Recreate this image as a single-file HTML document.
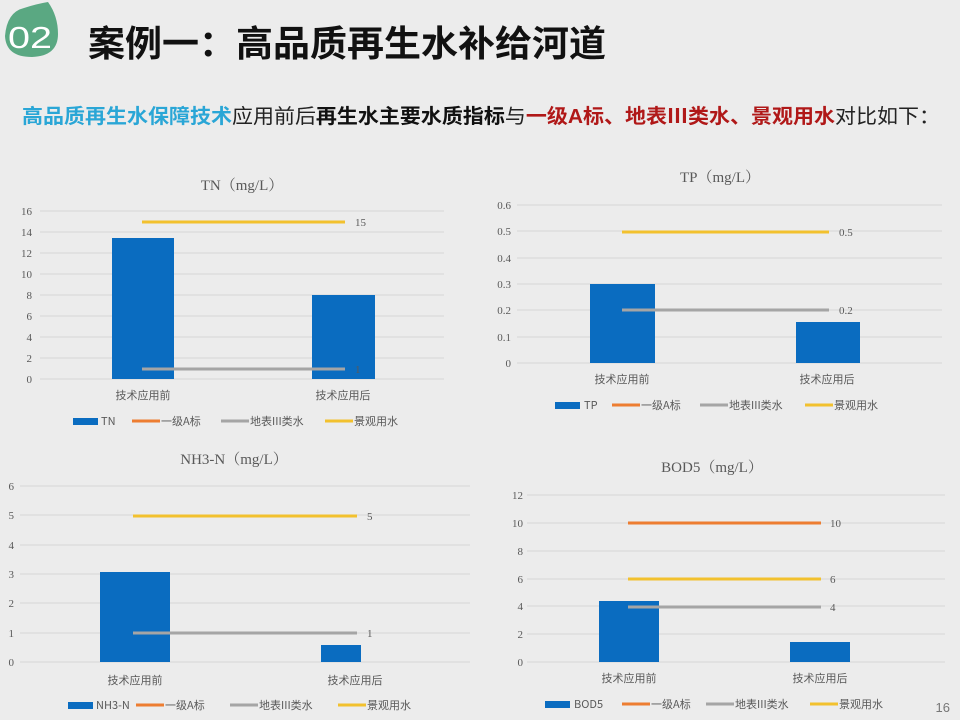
<!DOCTYPE html>
<html><head><meta charset="utf-8"><style>
body{margin:0;width:960px;height:720px;overflow:hidden;background:#ececec;font-family:"Liberation Sans","Noto Sans CJK SC",sans-serif}
svg{display:block}
.t{font-family:"Liberation Serif","Noto Serif CJK SC",serif;fill:#595959}
.ax{font-family:"Liberation Serif","Noto Sans CJK SC",serif;font-size:11px;fill:#595959}
.cat{font-family:"Noto Sans CJK SC",sans-serif;font-size:11px;fill:#595959}
.g line{stroke:#d6d6d6;stroke-width:1}
</style></head><body>
<svg width="960" height="720" viewBox="0 0 960 720">
<rect width="960" height="720" fill="#ececec"/>
<!-- badge -->
<path d="M5 36 Q7 12 24 8 Q36 4 48 2 Q58 16 58 34 Q58 56 32 57 Q6 57 5 36Z" fill="#5aa882"/>
<text x="8" y="48" font-size="31" fill="#fff" font-family="Liberation Sans,sans-serif" textLength="44" lengthAdjust="spacingAndGlyphs">02</text>
<text x="88" y="56" font-size="36" font-weight="bold" fill="#111" font-family="Liberation Sans,Noto Sans CJK SC,sans-serif" textLength="518" lengthAdjust="spacingAndGlyphs">案例一：高品质再生水补给河道</text>
<text x="22" y="123" font-size="20" font-family="Liberation Sans,Noto Sans CJK SC,sans-serif" textLength="918" lengthAdjust="spacingAndGlyphs"><tspan fill="#2aa6d6" font-weight="bold">高品质再生水保障技术</tspan><tspan fill="#222">应用前后</tspan><tspan fill="#111" font-weight="bold">再生水主要水质指标</tspan><tspan fill="#222">与</tspan><tspan fill="#b01818" font-weight="bold">一级A标、地表Ⅲ类水、景观用水</tspan><tspan fill="#222">对比如下：</tspan></text>

<!-- TN -->
<text class="t" x="242" y="190" font-size="15" text-anchor="middle">TN（mg/L）</text>
<g class="g"><line x1="40" x2="444" y1="379" y2="379"/><line x1="40" x2="444" y1="358" y2="358"/><line x1="40" x2="444" y1="337" y2="337"/><line x1="40" x2="444" y1="316" y2="316"/><line x1="40" x2="444" y1="295" y2="295"/><line x1="40" x2="444" y1="274" y2="274"/><line x1="40" x2="444" y1="253" y2="253"/><line x1="40" x2="444" y1="232" y2="232"/><line x1="40" x2="444" y1="211" y2="211"/></g>
<g class="ax" text-anchor="end"><text x="32" y="383">0</text><text x="32" y="362">2</text><text x="32" y="341">4</text><text x="32" y="320">6</text><text x="32" y="299">8</text><text x="32" y="278">10</text><text x="32" y="257">12</text><text x="32" y="236">14</text><text x="32" y="215">16</text></g>
<rect x="112" y="238" width="62" height="141" fill="#0a6cc0"/>
<rect x="312" y="295" width="63" height="84" fill="#0a6cc0"/>
<line x1="142" x2="345" y1="222" y2="222" stroke="#f2c12e" stroke-width="3"/>
<line x1="142" x2="345" y1="369" y2="369" stroke="#a5a5a5" stroke-width="3"/>
<text class="ax" x="355" y="226">15</text><text class="ax" x="355" y="373">1</text>
<text class="cat" x="143" y="399" text-anchor="middle">技术应用前</text><text class="cat" x="343" y="399" text-anchor="middle">技术应用后</text>
<g class="cat"><rect x="73" y="418" width="25" height="7" fill="#0a6cc0"/><text x="101" y="425">TN</text><line x1="132" x2="160" y1="421" y2="421" stroke="#ed7d31" stroke-width="3"/><text x="161" y="425">一级A标</text><line x1="221" x2="249" y1="421" y2="421" stroke="#a5a5a5" stroke-width="3"/><text x="250" y="425">地表III类水</text><line x1="325" x2="353" y1="421" y2="421" stroke="#f2c12e" stroke-width="3"/><text x="354" y="425">景观用水</text></g>

<!-- TP -->
<text class="t" x="720" y="182" font-size="15" text-anchor="middle">TP（mg/L）</text>
<g class="g"><line x1="517" x2="942" y1="363" y2="363"/><line x1="517" x2="942" y1="337" y2="337"/><line x1="517" x2="942" y1="310" y2="310"/><line x1="517" x2="942" y1="284" y2="284"/><line x1="517" x2="942" y1="258" y2="258"/><line x1="517" x2="942" y1="231" y2="231"/><line x1="517" x2="942" y1="205" y2="205"/></g>
<g class="ax" text-anchor="end"><text x="511" y="367">0</text><text x="511" y="341">0.1</text><text x="511" y="314">0.2</text><text x="511" y="288">0.3</text><text x="511" y="262">0.4</text><text x="511" y="235">0.5</text><text x="511" y="209">0.6</text></g>
<rect x="590" y="284" width="65" height="79" fill="#0a6cc0"/>
<rect x="796" y="322" width="64" height="41" fill="#0a6cc0"/>
<line x1="622" x2="829" y1="232" y2="232" stroke="#f2c12e" stroke-width="3"/>
<line x1="622" x2="829" y1="310" y2="310" stroke="#a5a5a5" stroke-width="3"/>
<text class="ax" x="839" y="236">0.5</text><text class="ax" x="839" y="314">0.2</text>
<text class="cat" x="622" y="383" text-anchor="middle">技术应用前</text><text class="cat" x="827" y="383" text-anchor="middle">技术应用后</text>
<g class="cat"><rect x="555" y="402" width="25" height="7" fill="#0a6cc0"/><text x="584" y="409">TP</text><line x1="612" x2="640" y1="405" y2="405" stroke="#ed7d31" stroke-width="3"/><text x="641" y="409">一级A标</text><line x1="700" x2="728" y1="405" y2="405" stroke="#a5a5a5" stroke-width="3"/><text x="729" y="409">地表III类水</text><line x1="805" x2="833" y1="405" y2="405" stroke="#f2c12e" stroke-width="3"/><text x="834" y="409">景观用水</text></g>

<!-- NH3-N -->
<text class="t" x="234" y="464" font-size="15" text-anchor="middle">NH3-N（mg/L）</text>
<g class="g"><line x1="20" x2="470" y1="662" y2="662"/><line x1="20" x2="470" y1="633" y2="633"/><line x1="20" x2="470" y1="603" y2="603"/><line x1="20" x2="470" y1="574" y2="574"/><line x1="20" x2="470" y1="545" y2="545"/><line x1="20" x2="470" y1="515" y2="515"/><line x1="20" x2="470" y1="486" y2="486"/></g>
<g class="ax" text-anchor="end"><text x="14" y="666">0</text><text x="14" y="637">1</text><text x="14" y="607">2</text><text x="14" y="578">3</text><text x="14" y="549">4</text><text x="14" y="519">5</text><text x="14" y="490">6</text></g>
<rect x="100" y="572" width="70" height="90" fill="#0a6cc0"/>
<rect x="321" y="645" width="40" height="17" fill="#0a6cc0"/>
<line x1="133" x2="357" y1="516" y2="516" stroke="#f2c12e" stroke-width="3"/>
<line x1="133" x2="357" y1="633" y2="633" stroke="#a5a5a5" stroke-width="3"/>
<text class="ax" x="367" y="520">5</text><text class="ax" x="367" y="637">1</text>
<text class="cat" x="135" y="684" text-anchor="middle">技术应用前</text><text class="cat" x="355" y="684" text-anchor="middle">技术应用后</text>
<g class="cat"><rect x="68" y="702" width="25" height="7" fill="#0a6cc0"/><text x="96" y="709">NH3-N</text><line x1="136" x2="164" y1="705" y2="705" stroke="#ed7d31" stroke-width="3"/><text x="165" y="709">一级A标</text><line x1="230" x2="258" y1="705" y2="705" stroke="#a5a5a5" stroke-width="3"/><text x="259" y="709">地表III类水</text><line x1="338" x2="366" y1="705" y2="705" stroke="#f2c12e" stroke-width="3"/><text x="367" y="709">景观用水</text></g>

<!-- BOD5 -->
<text class="t" x="712" y="472" font-size="15" text-anchor="middle">BOD5（mg/L）</text>
<g class="g"><line x1="527" x2="945" y1="662" y2="662"/><line x1="527" x2="945" y1="634" y2="634"/><line x1="527" x2="945" y1="606" y2="606"/><line x1="527" x2="945" y1="579" y2="579"/><line x1="527" x2="945" y1="551" y2="551"/><line x1="527" x2="945" y1="523" y2="523"/><line x1="527" x2="945" y1="495" y2="495"/></g>
<g class="ax" text-anchor="end"><text x="523" y="666">0</text><text x="523" y="638">2</text><text x="523" y="610">4</text><text x="523" y="583">6</text><text x="523" y="555">8</text><text x="523" y="527">10</text><text x="523" y="499">12</text></g>
<rect x="599" y="601" width="60" height="61" fill="#0a6cc0"/>
<rect x="790" y="642" width="60" height="20" fill="#0a6cc0"/>
<line x1="628" x2="821" y1="523" y2="523" stroke="#ed7d31" stroke-width="3"/>
<line x1="628" x2="821" y1="579" y2="579" stroke="#f2c12e" stroke-width="3"/>
<line x1="628" x2="821" y1="607" y2="607" stroke="#a5a5a5" stroke-width="3"/>
<text class="ax" x="830" y="527">10</text><text class="ax" x="830" y="583">6</text><text class="ax" x="830" y="611">4</text>
<text class="cat" x="629" y="682" text-anchor="middle">技术应用前</text><text class="cat" x="820" y="682" text-anchor="middle">技术应用后</text>
<g class="cat"><rect x="545" y="701" width="25" height="7" fill="#0a6cc0"/><text x="574" y="708">BOD5</text><line x1="622" x2="650" y1="704" y2="704" stroke="#ed7d31" stroke-width="3"/><text x="651" y="708">一级A标</text><line x1="706" x2="734" y1="704" y2="704" stroke="#a5a5a5" stroke-width="3"/><text x="735" y="708">地表III类水</text><line x1="810" x2="838" y1="704" y2="704" stroke="#f2c12e" stroke-width="3"/><text x="839" y="708">景观用水</text></g>

<text x="950" y="712" font-size="13" fill="#777" text-anchor="end" font-family="Liberation Sans,sans-serif">16</text>
</svg>
</body></html>
